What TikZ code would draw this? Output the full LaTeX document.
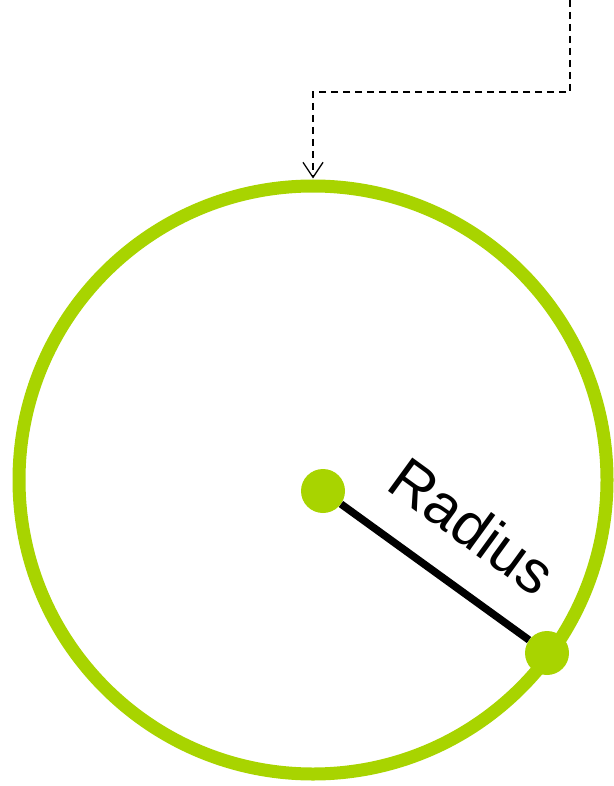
\documentclass[tikz,border=0pt]{standalone}
\usepackage{fontspec}
\setmainfont{Liberation Sans}
\usepackage{xcolor}
\usetikzlibrary{arrows.meta,positioning,calc}
\definecolor{lime}{RGB}{168,212,0}
\tikzset{
  ring/.style={circle,draw=lime,line width=13pt,minimum size=588pt,inner sep=0pt},
  dot/.style={circle,fill=lime,minimum size=44pt,inner sep=0pt},
  spoke/.style={line width=7.5pt,black},
  link/.style={line width=2.8pt,black,dash pattern=on 7pt off 5pt,
    -{Straight Barb[length=15pt,width=20pt,line width=1.3pt]},shorten >=1pt},
  lab/.style={font=\fontsize{60}{72}\selectfont,inner sep=0pt}
}
\begin{document}
\begin{tikzpicture}[x=1pt,y=-1pt]
  \useasboundingbox (0,0) rectangle (613,786);
  \node[ring] (ring) at (313,480) {};
  \node[dot] (ctr) at (323,491) {};
  \node[dot] (rim) at (547,653) {};
  \draw[spoke] (ctr)--(rim);
  \node[lab,rotate=-36] (lbl) at (473,526) {Radius};

  \coordinate (src) at (570,0);
  \coordinate (bend) at (570,92);
  \draw[link] (src)--(bend)-|(ring.north);
\end{tikzpicture}
\end{document}
